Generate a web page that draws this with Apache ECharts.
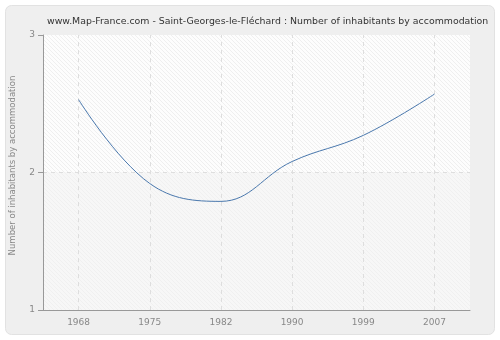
<!DOCTYPE html>
<html><head><meta charset="utf-8">
<script src="https://cdn.jsdelivr.net/npm/echarts@6/dist/echarts.min.js"></script>
<style>html,body{margin:0;padding:0;background:#fff}#c{width:500px;height:340px}</style>
</head><body><div id="c"></div>
<script>
const titleText = 'www.Map-France.com - Saint-Georges-le-Fléchard : Number of inhabitants by accommodation';
const yAxisName = 'Number of inhabitants by accommodation';
const categories = ['1968', '1975', '1982', '1990', '1999', '2007'];
const values = [2.53, 1.92, 1.79, 2.08, 2.27, 2.57];
const yTicks = [1, 2, 3];

function hatch(bg, line) {
  const n = 4;
  const c = document.createElement('canvas');
  c.width = n; c.height = n;
  const g = c.getContext('2d');
  g.fillStyle = bg; g.fillRect(0, 0, n, n);
  g.strokeStyle = line; g.lineWidth = 1;
  g.beginPath();
  g.moveTo(0, 0); g.lineTo(n, n);
  g.moveTo(-n, 0); g.lineTo(n, 2 * n);
  g.moveTo(0, -n); g.lineTo(2 * n, n);
  g.stroke();
  return c;
}
const font = 'DejaVu Sans';
const gridLine = {color: '#dedede', type: [4, 4], width: 1};
const chart = echarts.init(document.getElementById('c'), null, {renderer: 'canvas'});
chart.setOption({
  animation: false,
  backgroundColor: '#ffffff',
  graphic: [{
    type: 'rect', z: -10, silent: true,
    shape: {x: 5.5, y: 5.5, width: 489, height: 329, r: 6},
    style: {fill: '#efefef', stroke: '#e2e2e2', lineWidth: 1}
  }],
  title: {
    text: titleText, left: 42, top: 12,
    textStyle: {fontFamily: font, fontSize: 9.4, fontWeight: 'normal', color: '#333'}
  },
  grid: {left: 40, right: 30, top: 35, bottom: 30, containLabel: false},
  xAxis: {
    type: 'category', data: categories, boundaryGap: true,
    axisLine: {lineStyle: {color: '#999'}},
    axisTick: {alignWithLabel: true, length: 5, lineStyle: {color: '#999'}},
    axisLabel: {fontFamily: font, fontSize: 9, color: '#888', margin: 8},
    splitLine: {show: false}
  },
  yAxis: {
    type: 'value', min: yTicks[0], max: yTicks[yTicks.length - 1], interval: 1,
    name: yAxisName, nameLocation: 'middle', nameGap: 26,
    nameTextStyle: {fontFamily: font, fontSize: 8.5, color: '#888', padding: [0, 0, 0, 14]},
    axisLine: {show: true, lineStyle: {color: '#999'}},
    axisTick: {show: true, length: 5, lineStyle: {color: '#999'}},
    axisLabel: {fontFamily: font, fontSize: 9, color: '#888', margin: 8},
    splitLine: {show: true, showMinLine: false, showMaxLine: false, lineStyle: gridLine},
    splitArea: {show: true, areaStyle: {color: [
      {image: hatch('#f7f7f7', '#f0f0f0'), repeat: 'repeat'},
      {image: hatch('#fdfdfd', '#efefef'), repeat: 'repeat'}
    ]}}
  },
  series: [{
    type: 'line', data: values, smooth: 0.4, symbol: 'none',
    lineStyle: {color: '#4a78ad', width: 1},
    markLine: {
      silent: true, symbol: ['none', 'none'], label: {show: false},
      lineStyle: gridLine, z: 1,
      data: categories.map(c => ({xAxis: c}))
    }
  }]
});
</script></body></html>
